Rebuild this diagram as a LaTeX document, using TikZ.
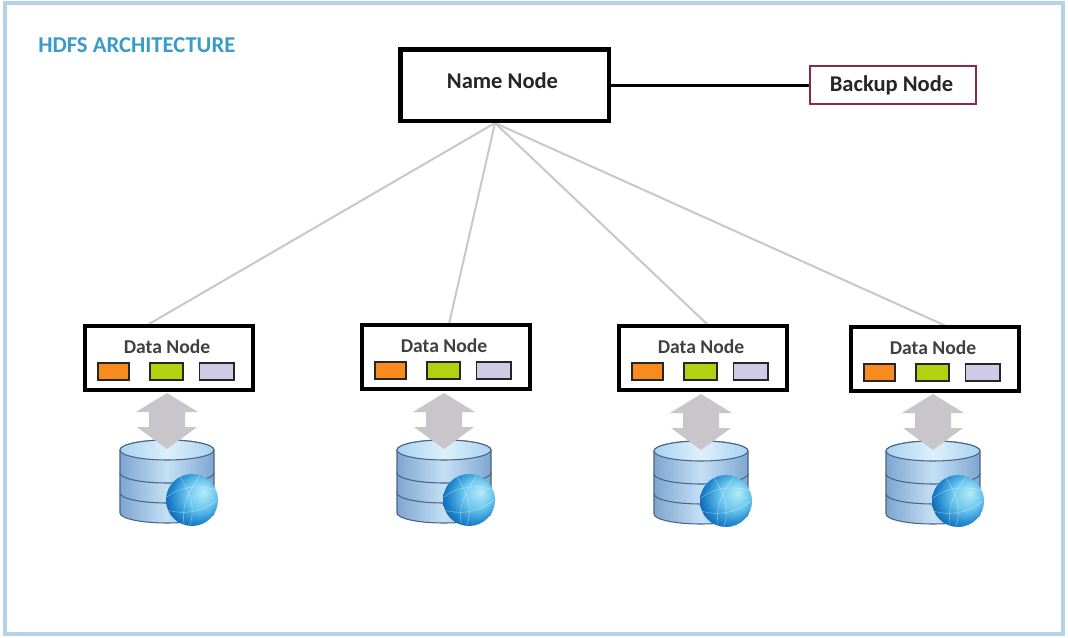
\documentclass[tikz,border=0pt]{standalone}
\usepackage{fontspec}
\setmainfont{Carlito}
\usetikzlibrary{calc}
\definecolor{frameblue}{HTML}{B4D3E9}
\definecolor{titleblue}{HTML}{3A9BCB}
\definecolor{backupred}{HTML}{8A2A4A}
\definecolor{linkgrey}{HTML}{C9C6CC}
\definecolor{arrowgrey}{HTML}{C8C6CB}
\definecolor{slotorange}{HTML}{F98A1E}
\definecolor{slotgreen}{HTML}{B2D10E}
\definecolor{slotlilac}{HTML}{CFCBE6}
\definecolor{dbedge}{HTML}{4A6488}
\definecolor{dbside}{HTML}{7FA6D0}
\definecolor{dbmid}{HTML}{C4E0F5}
\definecolor{dbtopa}{HTML}{A9D2F0}
\definecolor{dbtopb}{HTML}{DDF0FB}
\pgfdeclareradialshading{globeshade}{\pgfpoint{12bp}{8bp}}{%
  rgb(0bp)=(0.72,0.92,0.98);
  rgb(14bp)=(0.42,0.78,0.93);
  rgb(26bp)=(0.12,0.52,0.80);
  rgb(36bp)=(0.05,0.30,0.60);
  rgb(50bp)=(0.03,0.20,0.45)}
\tikzset{
  x=0.75pt,y=-0.75pt,
  namebox/.style={draw=black,line width=3.5pt,fill=white,minimum width=156.5pt,minimum height=53.5pt,inner sep=0pt},
  backupbox/.style={draw=backupred,line width=1.5pt,fill=white,minimum width=124pt,minimum height=28.5pt,inner sep=0pt},
  boxlabel/.style={inner sep=0pt,font=\bfseries\fontsize{16.9}{18}\selectfont,text=black!85},
  databox/.style={draw=black,line width=3.2pt,fill=white,minimum width=126pt,minimum height=48pt,inner sep=0pt},
  datalabel/.style={font=\bfseries\fontsize{14.7}{16}\selectfont,text=black!75,inner sep=0pt},
  slot/.style={draw=black!85,line width=1.4pt,minimum height=13pt,inner sep=0pt},
  link/.style={draw=linkgrey,line width=1.5pt},
  backlink/.style={draw=black,line width=1.8pt},
  discbody/.style={draw=dbedge,line width=0.8pt},
  pics/dbunit/.style={code={
    \foreach \ya/\yb in {43/63,23/43,0/23}{
      \path[discbody,left color=dbside,right color=dbside,middle color=dbmid]
        (-47,\ya) -- (-47,\yb) arc[start angle=180,end angle=360,x radius=47,y radius=-10] -- (47,\ya)
        arc[start angle=0,end angle=180,x radius=47,y radius=-10] -- cycle;
    }
    \path[discbody,left color=dbtopa,right color=dbtopa,middle color=dbtopb]
       (0,0) ellipse[x radius=47,y radius=10];
    \fill[arrowgrey] (0,-57) -- (31,-38) -- (18,-38) -- (18,-23) -- (30,-23)
       -- (0,-1) -- (-30,-23) -- (-18,-23) -- (-18,-38) -- (-31,-38) -- cycle;
    \path[shading=globeshade] (25,50) circle[radius=26];
    \draw[white,opacity=.4,line width=.4pt] (0,47) .. controls (15,35) and (35,35) .. (49,40);
    \draw[white,opacity=.4,line width=.4pt] (13,27) .. controls (25,45) and (28,60) .. (23,75);
    \draw[white,opacity=.4,line width=.4pt] (33,26) .. controls (18,45) and (15,60) .. (17,74);
    \draw[white,opacity=.4,line width=.4pt] (0,60) .. controls (18,65) and (35,62) .. (50,50);
  }},
}
\newcommand{\dataunit}[4]{% name, left, top, db offset
  \node[databox,anchor=north west] (#1) at (#2,#3) {};
  \node[datalabel] (#1t) at ($(#2,#3)+(84,23)$) {Data Node};
  \node[slot,fill=slotorange,minimum width=23pt,anchor=north west] (#1a) at ($(#2,#3)+(14,38)$) {};
  \node[slot,fill=slotgreen,minimum width=24.5pt,anchor=north west] (#1b) at ($(#2,#3)+(66,38)$) {};
  \node[slot,fill=slotlilac,minimum width=26pt,anchor=north west] (#1c) at ($(#2,#3)+(115.5,38)$) {};
  \pic at ($(#2,#3)+(84,#4)$) {dbunit};
}
\begin{document}
\begin{tikzpicture}
\useasboundingbox (0,0) rectangle (1068,638);
\fill[white] (0,0) rectangle (1068,638);
\draw[frameblue,line width=3.5pt] (5,3) rectangle (1063,634);
\node[anchor=west,inner sep=0pt,text=titleblue,font=\bfseries\fontsize{17}{19}\selectfont] (title) at (38,45) {HDFS ARCHITECTURE};

\coordinate (hub) at (495,123);
\coordinate (e1) at (149,324);
\coordinate (e2) at (449,324);
\coordinate (e3) at (708,325);
\coordinate (e4) at (946,326);
\draw[link] (hub) -- (e1);
\draw[link] (hub) -- (e2);
\draw[link] (hub) -- (e3);
\draw[link] (hub) -- (e4);

\node[namebox] (name) at (504.5,85.5) {};
\node[boxlabel] (namet) at (502.5,81) {Name Node};
\node[backupbox] (backup) at (893,85.5) {};
\node[boxlabel] (backupt) at (891.5,85.5) {Backup Node};
\draw[backlink] (name.east) -- (backup.west);

\dataunit{d1}{83}{324}{126}
\dataunit{d2}{360}{323}{127}
\dataunit{d3}{617}{324}{127}
\dataunit{d4}{849}{325}{126}
\end{tikzpicture}
\end{document}
